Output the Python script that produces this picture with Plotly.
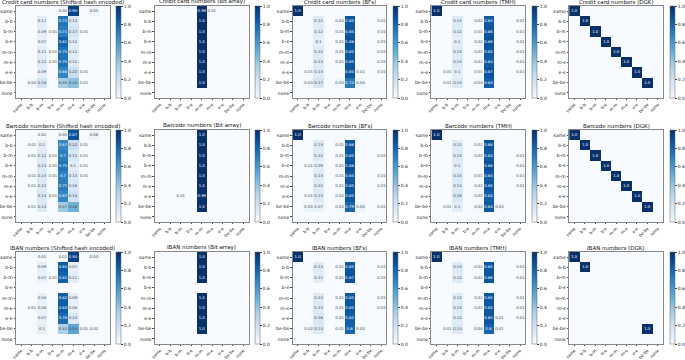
import plotly.graph_objects as go

cats = ["same", "b-b", "b-m", "b-e", "m-m", "m-e", "e-e", "be-be", "none"]
Z = [0] * 9

cc_she = [
    [0, 0, 0, 0, 0.02, 0.93, 0, 0.05, 0],
    [0, 0, 0.11, 0, 0.74, 0.14, 0, 0, 0],
    [0, 0, 0.09, 0.01, 0.71, 0.17, 0.01, 0, 0],
    [0, 0, 0.07, 0, 0.81, 0.12, 0, 0, 0],
    [0, 0, 0.11, 0.01, 0.75, 0.12, 0, 0, 0],
    [0, 0, 0.12, 0.01, 0.75, 0.12, 0, 0, 0],
    [0, 0, 0.09, 0, 0.68, 0.22, 0.01, 0, 0],
    [0, 0.03, 0.18, 0, 0.35, 0.42, 0.01, 0, 0],
    Z,
]
cc_bit = [
    [0, 0, 0, 0, 0.99, 0.01, 0, 0, 0],
    [0, 0, 0, 0, 1.0, 0, 0, 0, 0],
    [0, 0, 0, 0, 1.0, 0, 0, 0, 0],
    [0, 0, 0, 0, 1.0, 0, 0, 0, 0],
    [0, 0, 0, 0, 1.0, 0, 0, 0, 0],
    [0, 0, 0, 0, 1.0, 0, 0, 0, 0],
    [0, 0, 0, 0, 1.0, 0, 0, 0, 0],
    [0, 0, 0, 0, 1.0, 0, 0, 0, 0],
    Z,
]
cc_bf = [
    [1.0, 0, 0, 0, 0, 0, 0, 0, 0],
    [0, 0, 0.12, 0, 0.02, 0.85, 0, 0, 0.01],
    [0, 0, 0.12, 0, 0.01, 0.85, 0, 0, 0.01],
    [0, 0, 0.1, 0, 0.01, 0.88, 0, 0, 0.01],
    [0, 0, 0.12, 0, 0.01, 0.85, 0, 0, 0.01],
    [0, 0, 0.13, 0, 0.01, 0.85, 0, 0, 0.01],
    [0, 0.01, 0.13, 0, 0, 0.85, 0.01, 0, 0.01],
    [0, 0.03, 0.17, 0, 0.04, 0.72, 0.04, 0, 0],
    Z,
]
cc_tmh = [
    [1.0, 0, 0, 0, 0, 0, 0, 0, 0],
    [0, 0, 0.13, 0, 0.02, 0.84, 0, 0, 0.01],
    [0, 0, 0.12, 0, 0.01, 0.86, 0, 0, 0.01],
    [0, 0, 0.1, 0, 0.02, 0.88, 0, 0, 0.01],
    [0, 0, 0.13, 0, 0.01, 0.85, 0, 0, 0.01],
    [0, 0, 0.13, 0, 0.01, 0.84, 0, 0, 0.01],
    [0, 0.01, 0.1, 0, 0.01, 0.87, 0, 0, 0.01],
    [0, 0.01, 0.13, 0, 0.03, 0.83, 0, 0, 0],
    Z,
]
cc_dgk = [
    [1.0, 0, 0, 0, 0, 0, 0, 0, 0],
    [0, 1.0, 0, 0, 0, 0, 0, 0, 0],
    [0, 0, 1.0, 0, 0, 0, 0, 0, 0],
    [0, 0, 0, 1.0, 0, 0, 0, 0, 0],
    [0, 0, 0, 0, 1.0, 0, 0, 0, 0],
    [0, 0, 0, 0, 0, 1.0, 0, 0, 0],
    [0, 0, 0, 0, 0, 0, 1.0, 0, 0],
    [0, 0, 0, 0, 0, 0, 0, 1.0, 0],
    Z,
]

bc_she = [
    [0, 0, 0.02, 0, 0.05, 0.87, 0, 0.06, 0],
    [0, 0.01, 0.1, 0, 0.67, 0.22, 0.01, 0, 0],
    [0, 0.01, 0.12, 0.01, 0.7, 0.15, 0.01, 0, 0],
    [0, 0, 0.13, 0.01, 0.75, 0.1, 0.01, 0, 0],
    [0, 0.01, 0.13, 0.01, 0.7, 0.14, 0.01, 0, 0],
    [0, 0.01, 0.12, 0, 0.71, 0.16, 0, 0, 0],
    [0, 0, 0.14, 0.01, 0.67, 0.18, 0, 0, 0],
    [0, 0.01, 0.14, 0, 0.37, 0.48, 0, 0, 0],
    Z,
]
bc_bit = [
    [0, 0, 0, 0, 1.0, 0, 0, 0, 0],
    [0, 0, 0, 0, 1.0, 0, 0, 0, 0],
    [0, 0, 0, 0, 1.0, 0, 0, 0, 0],
    [0, 0, 0, 0, 1.0, 0, 0, 0, 0],
    [0, 0, 0, 0, 1.0, 0, 0, 0, 0],
    [0, 0, 0, 0, 1.0, 0, 0, 0, 0],
    [0, 0, 0.01, 0, 0.99, 0, 0, 0, 0],
    [0, 0, 0, 0, 1.0, 0, 0, 0, 0],
    Z,
]
bc_bf = [
    [1.0, 0, 0, 0, 0, 0, 0, 0, 0],
    [0, 0, 0.13, 0, 0.01, 0.86, 0, 0, 0],
    [0, 0, 0.12, 0, 0.01, 0.85, 0, 0, 0.01],
    [0, 0.01, 0.09, 0, 0.01, 0.88, 0, 0, 0],
    [0, 0, 0.13, 0, 0.01, 0.84, 0, 0, 0.01],
    [0, 0, 0.12, 0, 0.01, 0.85, 0, 0, 0.01],
    [0, 0.01, 0.13, 0, 0.02, 0.85, 0, 0, 0],
    [0, 0.05, 0.07, 0, 0.02, 0.79, 0.05, 0, 0.01],
    Z,
]
bc_tmh = [
    [1.0, 0, 0, 0, 0, 0, 0, 0, 0],
    [0, 0, 0.12, 0, 0.01, 0.86, 0, 0, 0],
    [0, 0, 0.13, 0, 0.02, 0.84, 0, 0, 0.01],
    [0, 0, 0.1, 0, 0, 0.88, 0, 0, 0.01],
    [0, 0, 0.13, 0, 0.01, 0.84, 0, 0, 0.01],
    [0, 0, 0.13, 0, 0.01, 0.85, 0, 0, 0.01],
    [0, 0, 0.16, 0, 0.02, 0.82, 0, 0, 0],
    [0, 0.01, 0.1, 0, 0.02, 0.84, 0.03, 0, 0],
    Z,
]
bc_dgk = [row[:] for row in cc_dgk]

ib_she = [
    [0, 0, 0.02, 0, 0.01, 0.94, 0, 0.04, 0],
    [0, 0, 0.09, 0, 0.84, 0.07, 0, 0, 0],
    [0, 0, 0.07, 0.01, 0.81, 0.11, 0, 0, 0],
    Z,
    [0, 0, 0.08, 0, 0.82, 0.09, 0, 0, 0],
    [0, 0.01, 0.08, 0, 0.83, 0.08, 0, 0, 0],
    [0, 0, 0.07, 0, 0.78, 0.14, 0, 0, 0],
    [0, 0, 0.1, 0, 0.32, 0.54, 0.01, 0.02, 0],
    Z,
]
ib_bit = [
    [0, 0, 0, 0, 1.0, 0, 0, 0, 0],
    [0, 0, 0, 0, 1.0, 0, 0, 0, 0],
    [0, 0, 0, 0, 1.0, 0, 0, 0, 0],
    Z,
    [0, 0, 0, 0, 1.0, 0, 0, 0, 0],
    [0, 0, 0, 0, 1.0, 0, 0, 0, 0],
    [0, 0, 0, 0, 1.0, 0, 0, 0, 0],
    [0, 0, 0, 0, 1.0, 0, 0, 0, 0],
    Z,
]
ib_bf = [
    [1.0, 0, 0, 0, 0, 0, 0, 0, 0],
    [0, 0, 0.13, 0, 0.01, 0.85, 0, 0, 0.01],
    [0, 0, 0.11, 0, 0.01, 0.87, 0, 0, 0.01],
    Z,
    [0, 0, 0.13, 0, 0.01, 0.85, 0, 0, 0.01],
    [0, 0, 0.13, 0, 0.01, 0.85, 0, 0, 0.01],
    [0, 0, 0.16, 0, 0.01, 0.82, 0, 0, 0],
    [0, 0.02, 0.14, 0, 0.01, 0.8, 0.02, 0, 0],
    Z,
]
ib_tmh = [
    [1.0, 0, 0, 0, 0, 0, 0, 0, 0],
    [0, 0, 0.13, 0, 0.01, 0.85, 0, 0, 0.01],
    [0, 0, 0.12, 0, 0.01, 0.86, 0, 0, 0.01],
    Z,
    [0, 0, 0.12, 0, 0.01, 0.85, 0, 0, 0.01],
    [0, 0, 0.13, 0, 0.01, 0.85, 0, 0, 0.01],
    [0, 0, 0.12, 0, 0, 0.85, 0.01, 0, 0.01],
    [0, 0.01, 0.14, 0, 0.04, 0.8, 0.01, 0, 0],
    Z,
]
ib_dgk = [
    [1.0, 0, 0, 0, 0, 0, 0, 0, 0],
    [0, 1.0, 0, 0, 0, 0, 0, 0, 0],
    Z, Z, Z, Z, Z,
    [0, 0, 0, 0, 0, 0, 0, 1.0, 0],
    Z,
]

titles = [
    "Credit card numbers (Shifted hash encoded)", "Credit card numbers (Bit array)",
    "Credit card numbers (BFs)", "Credit card numbers (TMH)", "Credit card numbers (DGK)",
    "Barcode numbers (Shifted hash encoded)", "Barcode numbers (Bit array)",
    "Barcode numbers (BFs)", "Barcode numbers (TMH)", "Barcode numbers (DGK)",
    "IBAN numbers (Shifted hash encoded)", "IBAN numbers (Bit array)",
    "IBAN numbers (BFs)", "IBAN numbers (TMH)", "IBAN numbers (DGK)",
]
matrices = [cc_she, cc_bit, cc_bf, cc_tmh, cc_dgk,
            bc_she, bc_bit, bc_bf, bc_tmh, bc_dgk,
            ib_she, ib_bit, ib_bf, ib_tmh, ib_dgk]

blues = [[0.0, "#f7fbff"], [0.125, "#deebf7"], [0.25, "#c6dbef"], [0.375, "#9ecae1"],
         [0.5, "#6baed6"], [0.625, "#4292c6"], [0.75, "#2171b5"], [0.875, "#08519c"],
         [1.0, "#08306b"]]

W, H = 685, 360
lefts = [16, 155, 293, 432, 570]
tops = [6, 130, 252]
pw, ph = 94, 92
FONT = "DejaVu Sans"

def fmt(v):
    return str(round(v, 2)) if v else ""

fig = go.Figure()
annotations = []
for i, (mat, title) in enumerate(zip(matrices, titles)):
    r, c = divmod(i, 5)
    x0 = lefts[c] / W
    x1 = (lefts[c] + pw) / W
    y1 = 1 - tops[r] / H
    y0 = 1 - (tops[r] + ph) / H
    sfx = "" if i == 0 else str(i + 1)
    fig.add_trace(go.Heatmap(
        z=mat, x=cats, y=cats,
        text=[[fmt(v) for v in row] for row in mat],
        texttemplate="%{text}", textfont=dict(size=3.8, family=FONT),
        colorscale=blues, zmin=0, zmax=1,
        xaxis="x" + sfx, yaxis="y" + sfx,
        colorbar=dict(
            x=(lefts[c] + pw + 6) / W, xanchor="left", xpad=0,
            y=(y0 + y1) / 2, yanchor="middle", len=ph / H, lenmode="fraction",
            ypad=0, thickness=5, outlinewidth=0.5, outlinecolor="#666",
            tickvals=[0, 0.2, 0.4, 0.6, 0.8, 1.0], ticktext=["0.0", "0.2", "0.4", "0.6", "0.8", "1.0"],
            ticks="outside", ticklen=2, tickwidth=0.5,
            tickfont=dict(size=4.5, family=FONT, color="#222"),
        ),
        hoverinfo="skip",
    ))
    fig.update_layout({
        "xaxis" + sfx: dict(domain=[x0, x1], anchor="y" + sfx, type="category",
                            tickangle=-45, tickfont=dict(size=4.2, family=FONT, color="#222"),
                            showline=True, mirror=True, linecolor="#888", linewidth=0.8,
                            ticks="outside", ticklen=1.5, tickwidth=0.5, showgrid=False,
                            zeroline=False, fixedrange=True, automargin=False),
        "yaxis" + sfx: dict(domain=[y0, y1], anchor="x" + sfx, type="category",
                            autorange="reversed", tickfont=dict(size=4.6, family=FONT, color="#222"),
                            showline=True, mirror=True, linecolor="#888", linewidth=0.8,
                            ticks="outside", ticklen=1.5, tickwidth=0.5, showgrid=False,
                            zeroline=False, fixedrange=True, automargin=False),
    })
    annotations.append(dict(text=title, x=(x0 + x1) / 2, y=y1, xref="paper", yref="paper",
                            xanchor="center", yanchor="bottom", showarrow=False, yshift=-1,
                            font=dict(size=5.5, family=FONT, color="#111")))

fig.update_layout(width=W, height=H, margin=dict(l=0, r=0, t=0, b=0),
                  paper_bgcolor="white", plot_bgcolor="white",
                  annotations=annotations, font=dict(family=FONT))
fig.write_html("out.html", config={"displayModeBar": False},
               post_script="document.body.style.margin='0px';")
